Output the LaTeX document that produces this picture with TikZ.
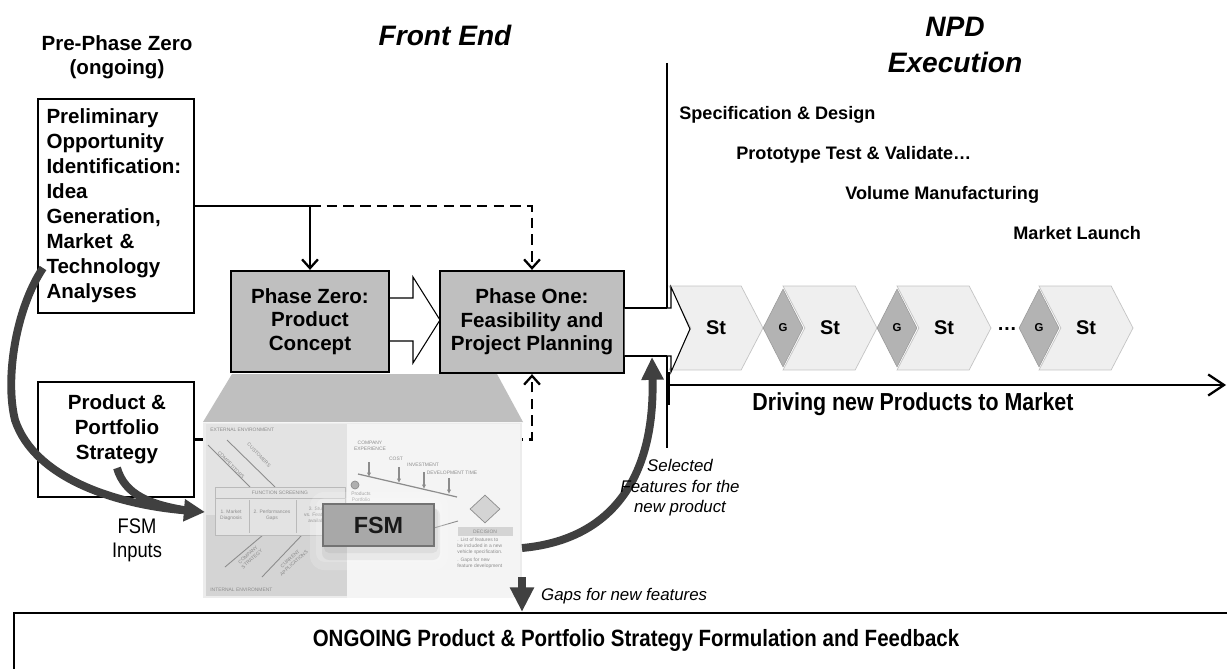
\documentclass[tikz,border=0pt]{standalone}
\usepackage{fontspec}
\setmainfont{Liberation Sans}
\newfontfamily\narrowfont[FakeStretch=0.87]{Liberation Sans}
\usetikzlibrary{arrows.meta,positioning,shapes.geometric,shapes.symbols}

\definecolor{boxgray}{HTML}{BFBFBF}
\definecolor{stepgray}{HTML}{EFEFEF}
\definecolor{stepedge}{HTML}{C4C4C4}
\definecolor{gategray}{HTML}{B3B3B3}
\definecolor{flowgray}{HTML}{404040}
\definecolor{imgback}{HTML}{ECECEC}
\definecolor{imgdark}{HTML}{D4D4D4}
\definecolor{imglight}{HTML}{E3E3E3}
\definecolor{imgpale}{HTML}{F4F4F4}
\definecolor{inkgray}{HTML}{8C8C8C}
\definecolor{fsmfill}{HTML}{A8A8A8}

\newcommand{\headfont}{\fontsize{16}{20.4}\selectfont\bfseries\itshape}
\newcommand{\labelfont}{\fontsize{11.7}{13.6}\selectfont\bfseries}
\newcommand{\boxfont}{\fontsize{11.7}{14.2}\selectfont\bfseries}
\newcommand{\phasefont}{\fontsize{11.7}{13.3}\selectfont\bfseries}
\newcommand{\stagefont}{\fontsize{10.3}{12}\selectfont\bfseries}
\newcommand{\stepfont}{\fontsize{11.3}{13}\selectfont\bfseries}
\newcommand{\gatefont}{\fontsize{6.5}{7}\selectfont\bfseries}
\newcommand{\notefont}{\fontsize{9.6}{11.6}\selectfont\itshape}
\newcommand{\narrowbig}{\narrowfont\fontsize{14}{16}\selectfont\bfseries}
\newcommand{\narrowmid}{\narrowfont\fontsize{13.4}{15}\selectfont\bfseries}
\newcommand{\inputfont}{\narrowfont\fontsize{12}{13.6}\selectfont}
\newcommand{\fsmfont}{\fontsize{13.3}{15}\selectfont\bfseries}
\newcommand{\tinyfont}{\fontsize{2.8}{3.3}\selectfont}

\begin{document}
\begin{tikzpicture}[x=0.02cm,y=-0.02cm,
  plainbox/.style={draw,line width=1.3pt,minimum width=3.12cm},
  phasebox/.style={draw,line width=1.3pt,fill=boxgray,align=center,font=\phasefont,inner sep=0},
  conn/.style={line width=1.3pt,-{Straight Barb[length=5pt,width=9pt]}},
  dconn/.style={conn,dash pattern=on 6pt off 3.5pt},
  flowarrow/.style={draw=flowgray,line width=4.5pt},
  stagestep/.style={signal,signal from=west,signal to=east,signal pointer angle=125,fill=stepgray,draw=stepedge,minimum width=1.88cm,minimum height=1.68cm,inner sep=0,font=\stepfont},
  gate/.style={diamond,fill=gategray,draw=gategray!85!black,line width=0.3pt,minimum width=0.8cm,minimum height=1.56cm,inner sep=0,font=\gatefont},
  stagelabel/.style={anchor=west,inner sep=0,font=\stagefont},
  tinytext/.style={font=\tinyfont,text=inkgray,inner sep=0,align=center}]

\useasboundingbox (0,0) rectangle (1227,669);
\fill[white] (0,0) rectangle (1227,669);

% Headings
\node[font=\headfont] (frontend) at (445,35) {Front End};
\node[font=\headfont,align=center] (npd) at (955,45) {NPD\\Execution};
\node[font=\labelfont,align=center] (prephase) at (117,57) {Pre-Phase Zero\\(ongoing)};

% Left boxes
\node[plainbox,minimum height=4.28cm,text width=2.78cm,inner xsep=0.17cm,align=left,font=\boxfont] (prelim) at (116,206) {Preliminary\\Opportunity\\Identification:\\Idea\\Generation,\\Market \&\\Technology\\Analyses};
\node[plainbox,minimum height=2.3cm] (strategy) at (116,439.5) {};
\node[font=\boxfont,align=center] (strategytxt) at (117,429) {Product \&\\Portfolio\\Strategy};

% Phases
\path[fill=white,draw,line width=0.6pt] (389,298) -- (413,298) -- (413,277) -- (440,320) -- (413,363) -- (413,341) -- (389,341) -- cycle;
\node[phasebox,minimum width=3.16cm,minimum height=2.02cm] (pzero) at (310,321.5) {Phase Zero:\\Product\\Concept};
\node[phasebox,minimum width=3.68cm,minimum height=2.04cm] (pone) at (532,322) {Phase One:\\Feasibility and\\Project Planning};

%arcs
\draw[conn] (prelim.east) -| (pzero.north);
\draw[dconn] (pzero.north |- prelim.east) -| (pone.north);
\draw[dconn] (strategy.east) -| (pone.south);

% Stage-gate chain
\node[stagestep] (st1) at (716,328) {St};
\node[stagestep] (st2) at (830,328) {St};
\node[stagestep] (st3) at (944,328) {St};
\node[stagestep] (st4) at (1086,328) {St};
\node[gate] (g1) at (783,328) {G};
\node[gate] (g2) at (897,328) {G};
\node[gate] (g3) at (1039,328) {G};
\node[font=\stepfont] (dots) at (1007,329) {…};

\path[fill=white,draw,line width=0.6pt] (624,308) -- (671,308) -- (671,287) -- (690,329) -- (671,372) -- (671,356) -- (624,356) -- cycle;
\draw[line width=1.3pt] (pone.east |- 0,308) -- (667,308);
\draw[line width=1.3pt] (pone.east |- 0,356) -- (667,356);
\coordinate (divtop) at (667,63);
\coordinate (divbot) at (667,448);
\draw[line width=1.3pt] (divtop) -- (divtop |- 0,308);
\draw[line width=1.3pt] (divbot |- 0,356) -- (divbot);

\node[stagelabel] (spec) at (679,115) {Specification \& Design};
\node[stagelabel] (proto) at (736,155) {Prototype Test \& Validate…};
\node[stagelabel] (volume) at (845,195) {Volume Manufacturing};
\node[stagelabel] (launch) at (1013,233) {Market Launch};

\coordinate (drivestart) at (669,385);
\draw[line width=1.3pt] (669,372) -- (669,405);
\draw[line width=1.3pt,-{Straight Barb[length=9pt,width=12pt]}] (drivestart) -- (1226,385);
\node[font=\narrowbig] (driving) at (913,404) {Driving new Products to Market};

% FSM picture
\path[fill=boxgray] (232,374) -- (497,374) -- (523,422) -- (203,422) -- cycle;
\node[fill=imgback,minimum width=6.38cm,minimum height=3.5cm,inner sep=0] (fsmimg) at (362.5,510.5) {};
\fill[imglight] (206,424) rectangle (347,515);
\fill[imgdark] (206,515) rectangle (347,596);
\fill[imgpale] (347,424) rectangle (520,598);
\node[tinytext,anchor=west] (extenv) at (210,430) {EXTERNAL ENVIRONMENT};
\node[tinytext,anchor=west] (intenv) at (210,590) {INTERNAL ENVIRONMENT};
\draw[inkgray,line width=0.5pt] (208,445) -- (250,487);
\draw[inkgray,line width=0.5pt] (227,440) -- (275,487);
\draw[inkgray,line width=0.5pt] (263,535) -- (225,567);
\draw[inkgray,line width=0.5pt] (302,535) -- (262,577);
\node[tinytext,rotate=-46] (competitors) at (231,465) {COMPETITORS};
\node[tinytext,rotate=-46] (customers) at (259,455) {CUSTOMERS};
\node[tinytext,rotate=42] (compstrat) at (250,557) {COMPANY\\STRATEGY};
\node[tinytext,rotate=42] (currapp) at (292,561) {CURRENT\\APPLICATIONS};
\draw[inkgray!60,line width=0.5pt,fill=imglight] (215,487) rectangle (345,535);
\draw[inkgray!60,line width=0.4pt] (215,498) -- (345,498);
\draw[inkgray!60,line width=0.4pt] (249,500) -- (249,533);
\draw[inkgray!60,line width=0.4pt] (296,500) -- (296,533);
\node[tinytext] (screening) at (280,492.5) {FUNCTION SCREENING};
\node[tinytext] (diag) at (231,515) {1. Market\\Diagnosis};
\node[tinytext] (perf) at (272,515) {2. Performances\\Gaps};
\node[tinytext] (study) at (318,515) {3. Study\\vs. Features\\available};
\node[tinytext] (experience) at (370,446) {COMPANY\\EXPERIENCE};
\node[tinytext] (cost) at (396,459) {COST};
\node[tinytext] (invest) at (423,465) {INVESTMENT};
\node[tinytext] (devtime) at (452,473) {DEVELOPMENT TIME};
\draw[inkgray,line width=0.7pt] (358,474) -- (457,497);
\draw[inkgray,line width=0.7pt,-{Latex[length=2.5pt,width=2.5pt]}] (369,462) -- (369,477);
\draw[inkgray,line width=0.7pt,-{Latex[length=2.5pt,width=2.5pt]}] (399,467) -- (399,483);
\draw[inkgray,line width=0.7pt,-{Latex[length=2.5pt,width=2.5pt]}] (424,472) -- (424,489);
\draw[inkgray,line width=0.7pt,-{Latex[length=2.5pt,width=2.5pt]}] (449,478) -- (449,494);
\node[circle,fill=inkgray!70,draw=inkgray,minimum size=0.16cm,inner sep=0] (portdot) at (355,485) {};
\node[tinytext] (portfolio) at (361,497) {Products\\Portfolio};
\draw[inkgray,line width=0.5pt] (420,532) -- (458,521);
\node[diamond,draw=inkgray,fill=imgdark,minimum width=0.6cm,minimum height=0.56cm,inner sep=0] (decdiamond) at (485,509) {};
\node[fill=imgdark,minimum width=1.1cm,minimum height=0.18cm,inner sep=0,font=\tinyfont,text=inkgray] (decision) at (485,531.5) {DECISION};
\node[tinytext,anchor=north west,align=left] (declist) at (457,538) {. List of features to\\be included in a new\\vehicle specification.\\[1.2pt]. Gaps for new\\feature development};

% FSM box with soft halo
\fill[white,opacity=0.18,rounded corners=8pt] (310,492) rectangle (448,570);
\fill[white,opacity=0.18,rounded corners=5pt] (316,498) rectangle (442,562);
\fill[black,opacity=0.05,rounded corners=4pt] (322,508) rectangle (440,560);
\fill[black,opacity=0.05,rounded corners=3pt] (324,508) rectangle (438,553);
\node[fill=fsmfill,draw=black!55,line width=0.6pt,minimum width=2.22cm,minimum height=0.84cm,font=\fsmfont,text=black!90] (fsm) at (378.5,525) {FSM};

% Thick grey arrows
\draw[flowarrow,-{Triangle[length=12pt,width=12pt]}] (43,268) .. controls (15,310) and (5,380) .. (15,420) .. controls (35,480) and (120,505) .. (205,512);
\draw[flowarrow] (117,468) .. controls (125,495) and (150,505) .. (190,511);
\draw[flowarrow,-{Triangle[length=13pt,width=12pt]}] (522,548) .. controls (610,540) and (655,480) .. (652,357);
\node[font=\inputfont,align=center] (fsminputs) at (137,540) {FSM\\Inputs};
\node[font=\notefont,align=center] (selected) at (680,488) {Selected\\Features for the\\new product};

% Ongoing strip
\node[draw,line width=1.3pt,minimum width=24.52cm,minimum height=1.54cm,inner sep=0] (ongoing) at (627,651.5) {};
\node[font=\narrowmid] (ongoingtxt) at (636,640) {ONGOING Product \& Portfolio Strategy Formulation and Feedback};
\coordinate (gapsout) at (522,577);
\draw[flowarrow,line width=5pt,-{Triangle[length=14pt,width=13pt]}] (gapsout) -- (gapsout |- ongoing.north);
\node[font=\notefont,anchor=west] (gaps) at (535,596) {Gaps for new features};

\end{tikzpicture}
\end{document}
